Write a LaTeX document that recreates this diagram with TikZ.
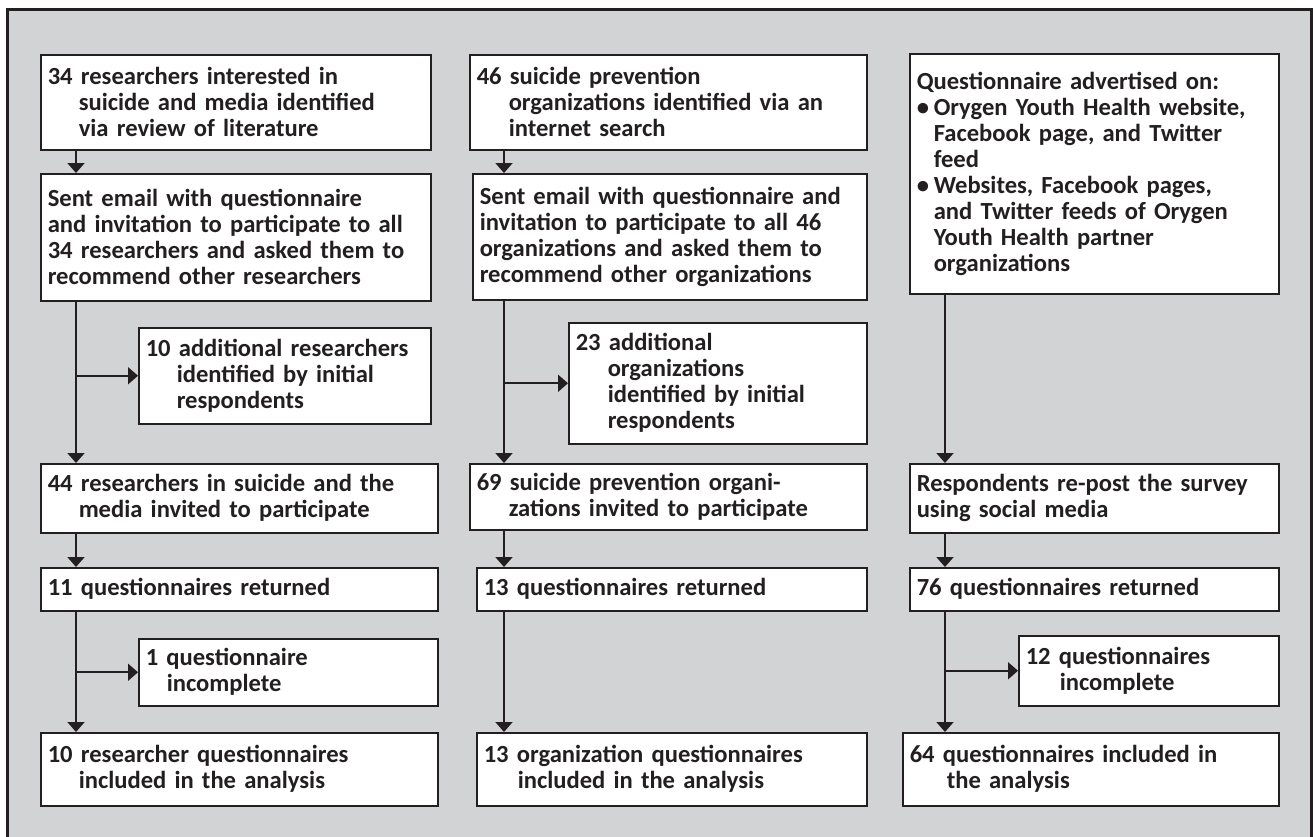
\documentclass[tikz,border=0pt]{standalone}
\usepackage{fontspec}
\setmainfont{Carlito}
\usetikzlibrary{arrows.meta}
\definecolor{panelgray}{RGB}{209,211,212}
\definecolor{inkgray}{RGB}{35,31,32}
\newcommand{\contline}[1]{\hspace*{#1}}
\newcommand{\bulletitem}{\makebox[17pt][l]{\textbullet}}
\tikzset{
  stage/.style={draw=inkgray, line width=1.5pt, fill=white, anchor=north west,
    align=left, inner xsep=7pt, inner ysep=0pt, text=inkgray,
    font=\bfseries\fontsize{24.6}{26}\selectfont},
  flow/.style={->, line width=1.8pt, draw=inkgray},
}
\begin{document}
\begin{tikzpicture}[x=1pt,y=-1pt,>={Triangle[width=17pt,length=10pt]}]
  \useasboundingbox (0,0) rectangle (1315,836);
  \clip (0,0) rectangle (1315,836);
  \draw[line width=3pt, draw=inkgray, fill=panelgray] (7.5,9.5) rectangle (1311,860);

  % researchers
  \node[stage, text width=376pt, minimum height=95pt] (a1) at (40,54)
    {34 researchers interested in\\\contline{31pt}suicide and media identified\\\contline{31pt}via review of literature};
  \node[stage, text width=376pt, minimum height=127pt] (a2) at (40,173)
    {Sent email with questionnaire\\and invitation to participate to all\\34 researchers and asked them to\\recommend other researchers};
  \node[stage, text width=278pt, minimum height=96pt] (a3) at (138,327)
    {10 additional researchers\\\contline{31pt}identified by initial\\\contline{31pt}respondents};
  \node[stage, text width=383pt, minimum height=69pt] (a4) at (40,463)
    {44 researchers in suicide and the\\\contline{31pt}media invited to participate};
  \node[stage, text width=383pt, minimum height=43pt] (a5) at (40,567)
    {11 questionnaires returned};
  \node[stage, text width=285pt, minimum height=67pt] (a6) at (138,638)
    {1 questionnaire\\\contline{21pt}incomplete};
  \node[stage, text width=383pt, minimum height=73pt] (a7) at (40,732)
    {10 researcher questionnaires\\\contline{31pt}included in the analysis};

  % organizations
  \node[stage, text width=383pt, minimum height=95pt] (b1) at (469,54)
    {46 suicide prevention\\\contline{32pt}organizations identified via an\\\contline{32pt}internet search};
  \node[stage, text width=380pt, minimum height=126pt] (b2) at (472,173)
    {Sent email with questionnaire and\\invitation to participate to all 46\\organizations and asked them to\\recommend other organizations};
  \node[stage, text width=284pt, minimum height=121pt] (b3) at (568,322)
    {23 additional\\\contline{32pt}organizations\\\contline{32pt}identified by initial\\\contline{32pt}respondents};
  \node[stage, text width=383pt, minimum height=66pt] (b4) at (469,463)
    {69 suicide prevention organi-\\\contline{32pt}zations invited to participate};
  \node[stage, text width=376pt, minimum height=43pt] (b5) at (476,567)
    {13 questionnaires returned};
  \node[stage, text width=376pt, minimum height=73pt] (b6) at (476,732)
    {13 organization questionnaires\\\contline{34pt}included in the analysis};

  % social media
  \node[stage, text width=355pt, minimum height=240pt] (c1) at (909,53)
    {Questionnaire advertised on:\\\bulletitem Orygen Youth Health website,\\\contline{17pt}Facebook page, and Twitter\\\contline{17pt}feed\\\bulletitem Websites, Facebook pages,\\\contline{17pt}and Twitter feeds of Orygen\\\contline{17pt}Youth Health partner\\\contline{17pt}organizations};
  \node[stage, text width=355pt, minimum height=69pt] (c2) at (909,463)
    {Respondents re-post the survey\\using social media};
  \node[stage, text width=355pt, minimum height=43pt] (c3) at (909,567)
    {76 questionnaires returned};
  \node[stage, text width=246pt, minimum height=70pt] (c4) at (1018,635)
    {12 questionnaires\\\contline{34pt}incomplete};
  \node[stage, text width=362pt, minimum height=73pt] (c5) at (902,732)
    {64 questionnaires included in\\\contline{37pt}the analysis};

  \coordinate (ax) at (76,0);
  \coordinate (bx) at (504,0);
  \coordinate (cx) at (945,0);

  \draw[flow] (ax |- a1.south) -- (ax |- a2.north);
  \draw[flow] (ax |- a2.south) -- (ax |- a4.north);
  \draw[flow] (ax |- a3.west) -- (a3.west);
  \draw[flow] (ax |- a4.south) -- (ax |- a5.north);
  \draw[flow] (ax |- a5.south) -- (ax |- a7.north);
  \draw[flow] (ax |- a6.west) -- (a6.west);

  \draw[flow] (bx |- b1.south) -- (bx |- b2.north);
  \draw[flow] (bx |- b2.south) -- (bx |- b4.north);
  \draw[flow] (bx |- b3.west) -- (b3.west);
  \draw[flow] (bx |- b4.south) -- (bx |- b5.north);
  \draw[flow] (bx |- b5.south) -- (bx |- b6.north);

  \draw[flow] (cx |- c1.south) -- (cx |- c2.north);
  \draw[flow] (cx |- c2.south) -- (cx |- c3.north);
  \draw[flow] (cx |- c3.south) -- (cx |- c5.north);
  \draw[flow] (cx |- c4.west) -- (c4.west);
\end{tikzpicture}
\end{document}
